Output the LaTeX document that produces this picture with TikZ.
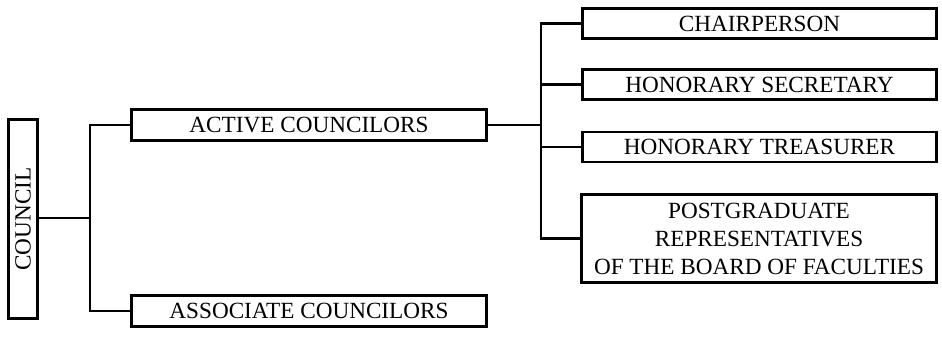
\documentclass[tikz,border=0pt]{standalone}
\usepackage{fontspec}
\setmainfont{Liberation Serif}
\begin{document}
\begin{tikzpicture}[x=1pt,y=-1pt,
  box/.style={draw, line width=2.8pt, inner sep=0pt, align=center,
    font=\fontsize{23.2}{28}\selectfont},
  link/.style={line width=2.8pt, line join=miter}]
\useasboundingbox (0,0) rectangle (942,340);
% left column
\node[box, minimum width=29pt, minimum height=199pt] (council) at (23,219) {\rotatebox{90}{COUNCIL}};
% middle column
\node[box, minimum width=355pt, minimum height=31pt] (active) at (309,125) {ACTIVE COUNCILORS};
\node[box, minimum width=355pt, minimum height=31pt] (assoc) at (309,311) {ASSOCIATE COUNCILORS};
% right column
\node[box, minimum width=354pt, minimum height=30pt] (chair) at (759.5,23.5) {CHAIRPERSON};
\node[box, minimum width=354pt, minimum height=30pt] (secr) at (759.5,84.5) {HONORARY SECRETARY};
\node[box, minimum width=354pt, minimum height=30pt] (treas) at (759.5,147) {HONORARY TREASURER};
\node[box, minimum width=355pt, minimum height=88pt] (post) at (759,238.5) {POSTGRADUATE\\REPRESENTATIVES\\OF THE BOARD OF FACULTIES};
% junction points of the trunks
\coordinate (j1) at (90,218);
\coordinate (j2) at (541,125);
% connectors
\draw[link] (council.east |- j1) -- (j1);
\draw[link] (active.west) -| (j1) |- (assoc.west);
\draw[link] (active.east) -- (j2);
\draw[link] (chair.west) -| (j2) |- (post.west);
\draw[link] (secr.west) -- (secr.west -| j2);
\draw[link] (treas.west) -- (treas.west -| j2);
\end{tikzpicture}
\end{document}
